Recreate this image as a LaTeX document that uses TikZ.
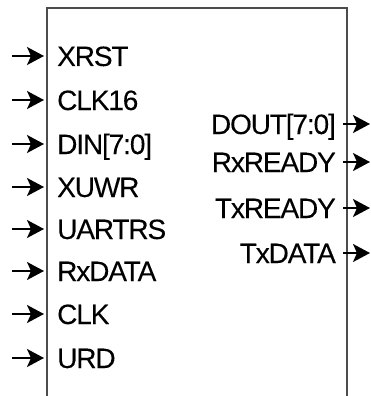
\documentclass[tikz,border=0pt]{standalone}
\usepackage{fontspec}
\setmainfont{Liberation Sans}
\newfontfamily\pinfont[LetterSpace=-4, FakeBold=0.1]{Liberation Sans}
\usetikzlibrary{arrows.meta, positioning}

\begin{document}
\begin{tikzpicture}[x=1pt, y=-1pt,
  every node/.style = {font=\pinfont\fontsize{28}{32}\selectfont, inner sep=0pt, text height=20pt, text depth=0pt},
  inpin/.style = {anchor=west},
  outpin/.style = {anchor=east},
  pinarrow/.style = {line width=1.8pt, -{Stealth[length=17pt, width=18pt, inset=4pt]}}]
 \useasboundingbox (0,0) rectangle (371,396);
 % block, open at the bottom
 \draw[line width=1.4pt, draw=black!70] (47,396) |- (347,8) -- (347,396);

 % inputs
 \node[inpin] (xrst)   at (57,56)  {XRST};
 \node[inpin] (clk16)  at (57,100) {CLK16};
 \node[inpin] (din)    at (57,144) {DIN[7:0]};
 \node[inpin] (xuwr)   at (57,187) {XUWR};
 \node[inpin] (uartrs) at (57,229) {UARTRS};
 \node[inpin] (rxdata) at (57,271) {RxDATA};
 \node[inpin] (clk)    at (57,314) {CLK};
 \node[inpin] (urd)    at (57,358) {URD};

 % outputs
 \node[outpin] (dout)    at (336,124) {DOUT[7:0]};
 \node[outpin] (rxready) at (336,162) {RxREADY};
 \node[outpin] (txready) at (336,208) {TxREADY};
 \node[outpin] (txdata)  at (336,253) {TxDATA};

 \foreach \p in {xrst, clk16, din, xuwr, uartrs, rxdata, clk, urd} {
   \coordinate (\p-in) at ([xshift=-45pt]\p.west);
   \draw[pinarrow, shorten >=13pt] (\p-in) -- (\p);
 }
 \foreach \p in {dout, rxready, txready, txdata} {
   \coordinate (\p-out) at ([xshift=34pt]\p.east);
   \draw[pinarrow, shorten <=7pt] (\p) -- (\p-out);
 }
\end{tikzpicture}
\end{document}
